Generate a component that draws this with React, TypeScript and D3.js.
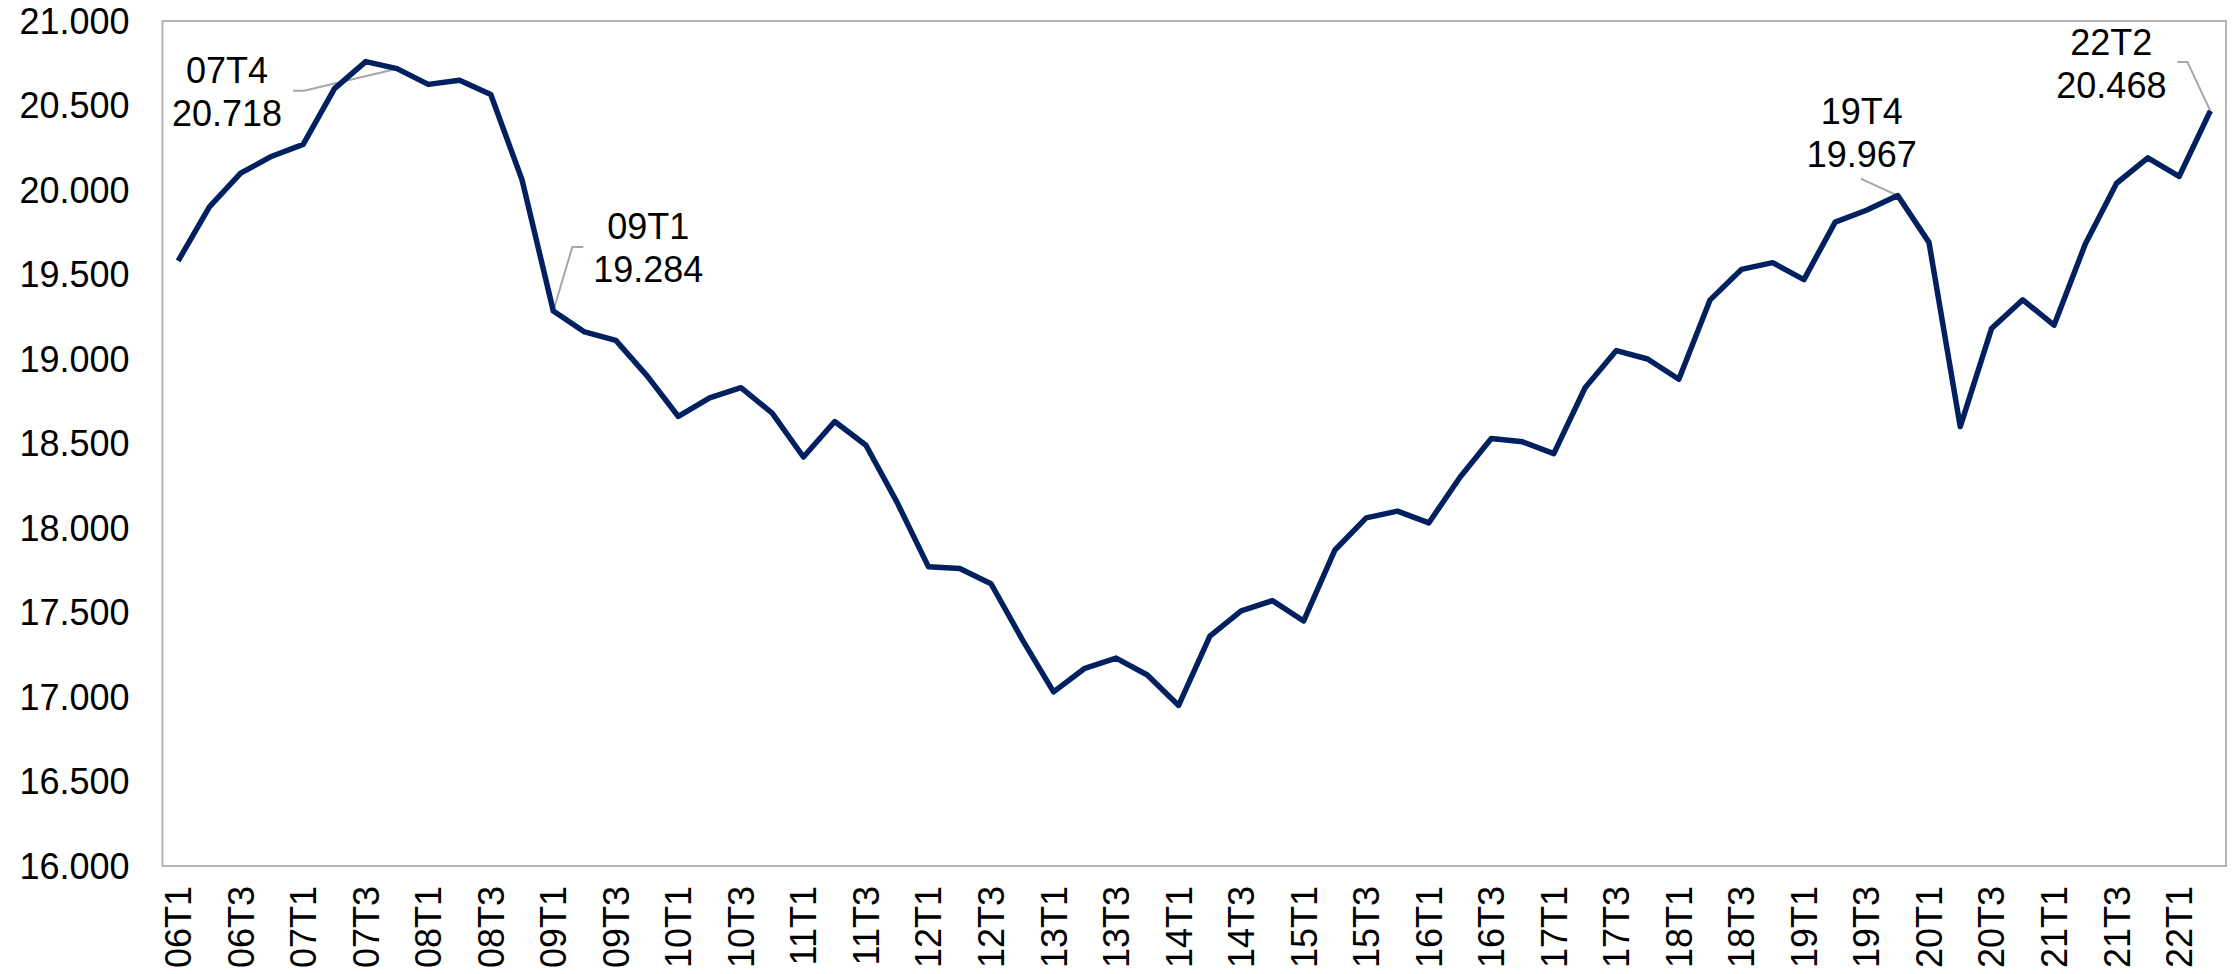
import React, { useEffect, useRef } from 'react';
import * as d3 from 'd3';

const quarters = [
  '06T1', '06T2', '06T3', '06T4', '07T1', '07T2', '07T3', '07T4',
  '08T1', '08T2', '08T3', '08T4', '09T1', '09T2', '09T3', '09T4',
  '10T1', '10T2', '10T3', '10T4', '11T1', '11T2', '11T3', '11T4',
  '12T1', '12T2', '12T3', '12T4', '13T1', '13T2', '13T3', '13T4',
  '14T1', '14T2', '14T3', '14T4', '15T1', '15T2', '15T3', '15T4',
  '16T1', '16T2', '16T3', '16T4', '17T1', '17T2', '17T3', '17T4',
  '18T1', '18T2', '18T3', '18T4', '19T1', '19T2', '19T3', '19T4',
  '20T1', '20T2', '20T3', '20T4', '21T1', '21T2', '21T3', '21T4',
  '22T1', '22T2',
];

// values in thousands
const values = [
  19.58, 19.9, 20.1, 20.2, 20.27, 20.6, 20.76, 20.718,
  20.625, 20.65, 20.565, 20.06, 19.284, 19.16, 19.11, 18.9,
  18.66, 18.77, 18.83, 18.68, 18.42, 18.63, 18.49, 18.15,
  17.77, 17.76, 17.67, 17.34, 17.03, 17.17, 17.23, 17.13,
  16.95, 17.36, 17.51, 17.57, 17.45, 17.87, 18.06, 18.1,
  18.03, 18.3, 18.53, 18.51, 18.44, 18.83, 19.05, 19.0,
  18.88, 19.35, 19.53, 19.57, 19.47, 19.81, 19.88, 19.967,
  19.69, 18.6, 19.18, 19.35, 19.2, 19.68, 20.04, 20.19,
  20.08, 20.468,
];

const yTicks = [16, 16.5, 17, 17.5, 18, 18.5, 19, 19.5, 20, 20.5, 21];

const highlighted = ['07T4', '09T1', '19T4', '22T2'];

// label placement relative to the point: text centre, first baseline, leader path
const labelLayout = {
  '07T4': { tx: -170, ty: 14, leader: [[-104, 22], [-93, 22]] },
  '09T1': { tx: 95, ty: -72, leader: [[30, -64], [19, -64]] },
  '19T4': { tx: -36, ty: -72, leader: [[-37, -17]] },
  '22T2': { tx: -99, ty: -56, leader: [[-33, -49], [-23, -49]] },
};

const App = () => {
  const svgRef = useRef();

  useEffect(() => {
    const svg = d3.select(svgRef.current);
    svg.selectAll('*').remove();

    const margin = { top: 21, right: 11, bottom: 108, left: 162.5 };
    const width = 2237;
    const height = 974;
    const innerWidth = width - margin.left - margin.right;
    const innerHeight = height - margin.top - margin.bottom;
    const font = "'Liberation Sans', Arial, sans-serif";
    const fs = 36;

    const x = d3.scaleBand().domain(quarters).range([0, innerWidth]).padding(0);
    const y = d3.scaleLinear().domain([16, 21]).range([innerHeight, 0]);
    const cx = (q) => x(q) + x.bandwidth() / 2;

    const g = svg.append('g').attr('transform', `translate(${margin.left},${margin.top})`);

    // plot frame
    g.append('rect')
      .attr('x', 0)
      .attr('y', 0)
      .attr('width', innerWidth)
      .attr('height', innerHeight)
      .attr('fill', 'none')
      .attr('stroke', '#b4b4b4')
      .attr('stroke-width', 2);

    // y labels
    g.selectAll('.ylab')
      .data(yTicks)
      .enter()
      .append('text')
      .attr('class', 'ylab')
      .attr('x', -33)
      .attr('y', (d) => y(d))
      .attr('dy', '0.36em')
      .attr('text-anchor', 'end')
      .attr('font-family', font)
      .attr('font-size', fs)
      .attr('fill', '#000')
      .text((d) => d3.format('.3f')(d));

    // x labels, every other quarter
    g.selectAll('.xlab')
      .data(quarters.filter((_, i) => i % 2 === 0))
      .enter()
      .append('text')
      .attr('class', 'xlab')
      .attr('transform', (d) => `translate(${cx(d)},${innerHeight + 20}) rotate(-90)`)
      .attr('dy', '0.36em')
      .attr('text-anchor', 'end')
      .attr('font-family', font)
      .attr('font-size', fs)
      .attr('fill', '#000')
      .text((d) => d);

    const line = d3.line()
      .x((d, i) => cx(quarters[i]))
      .y((d) => y(d));

    // leader lines under the series
    highlighted.forEach((q) => {
      const i = quarters.indexOf(q);
      const px = cx(q);
      const py = y(values[i]);
      const lay = labelLayout[q];
      const pts = lay.leader.map(([dx, dy]) => [px + dx, py + dy]).concat([[px, py]]);
      g.append('path')
        .attr('d', d3.line()(pts))
        .attr('fill', 'none')
        .attr('stroke', '#a6a6a6')
        .attr('stroke-width', 2);
    });

    g.append('path')
      .datum(values)
      .attr('d', line)
      .attr('fill', 'none')
      .attr('stroke', '#002060')
      .attr('stroke-width', 5.5)
      .attr('stroke-linejoin', 'round');

    // data labels
    highlighted.forEach((q) => {
      const i = quarters.indexOf(q);
      const px = cx(q);
      const py = y(values[i]);
      const lay = labelLayout[q];
      const t = g.append('text')
        .attr('text-anchor', 'middle')
        .attr('font-family', font)
        .attr('font-size', fs)
        .attr('fill', '#000');
      t.append('tspan').attr('x', px + lay.tx).attr('y', py + lay.ty).text(q);
      t.append('tspan').attr('x', px + lay.tx).attr('y', py + lay.ty + 43).text(d3.format('.3f')(values[i]));
    });
  }, []);

  return (
    <svg
      ref={svgRef}
      width={2237}
      height={974}
      style={{ position: 'absolute', left: 0, top: 0, background: '#fff' }}
    ></svg>
  );
};

export default App;
